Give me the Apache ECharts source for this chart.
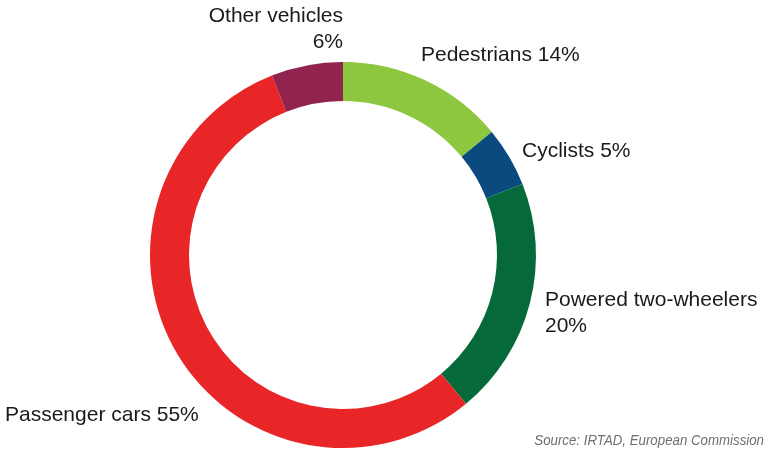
<!DOCTYPE html>
<html>
<head>
<meta charset="utf-8">
<script src="https://cdn.jsdelivr.net/npm/echarts@6/dist/echarts.min.js"></script>
<style>
  html, body { margin: 0; padding: 0; background: #fff; }
  #chart { width: 766px; height: 452px; }
</style>
</head>
<body>
<div id="chart"></div>
<script>
  var categories = ['Pedestrians', 'Cyclists', 'Powered two-wheelers', 'Passenger cars', 'Other vehicles'];
  var shares = [14, 5, 20, 55, 6];
  var labelTexts = ['Pedestrians 14%', 'Cyclists 5%', 'Powered two-wheelers\n20%', 'Passenger cars 55%', 'Other vehicles\n6%'];
  var colors = ['#8DC63F', '#0A4A7F', '#05693A', '#E82628', '#91244F'];

  // where each label sits (x, y, align)
  var labelPos = [
    [421, 55, 'left'],
    [522, 151, 'left'],
    [545, 313, 'left'],
    [5, 415, 'left'],
    [343, 29, 'right']
  ];

  var myChart = echarts.init(document.getElementById('chart'));

  var pieData = categories.map(function (name, i) {
    return {
      name: name,
      value: shares[i],
      itemStyle: { color: colors[i] },
      label: { formatter: labelTexts[i] }
    };
  });

  myChart.setOption({
    animation: false,
    backgroundColor: '#fff',
    graphic: [{
      type: 'text',
      x: 764,
      y: 441,
      scaleX: 0.885,
      style: {
        x: 0,
        y: 0,
        align: 'right',
        verticalAlign: 'middle',
        text: 'Source: IRTAD, European Commission',
        fontFamily: '"Liberation Sans Narrow", "Liberation Sans", Arial, sans-serif',
        fontStyle: 'italic',
        fontSize: 15,
        fill: '#6d6e71'
      }
    }],
    series: [{
      type: 'pie',
      center: [343, 255],
      radius: [154, 193],
      startAngle: 90,
      clockwise: true,
      data: pieData,
      label: {
        show: true,
        position: 'outside',
        overflow: 'none',
        color: '#1a1a1a',
        fontFamily: '"Liberation Sans", Arial, sans-serif',
        fontSize: 21,
        lineHeight: 26
      },
      labelLine: { show: false },
      labelLayout: function (params) {
        var p = labelPos[params.dataIndex];
        return { x: p[0], y: p[1], align: p[2], verticalAlign: 'middle' };
      },
      emphasis: { disabled: true }
    }]
  });
</script>
</body>
</html>
